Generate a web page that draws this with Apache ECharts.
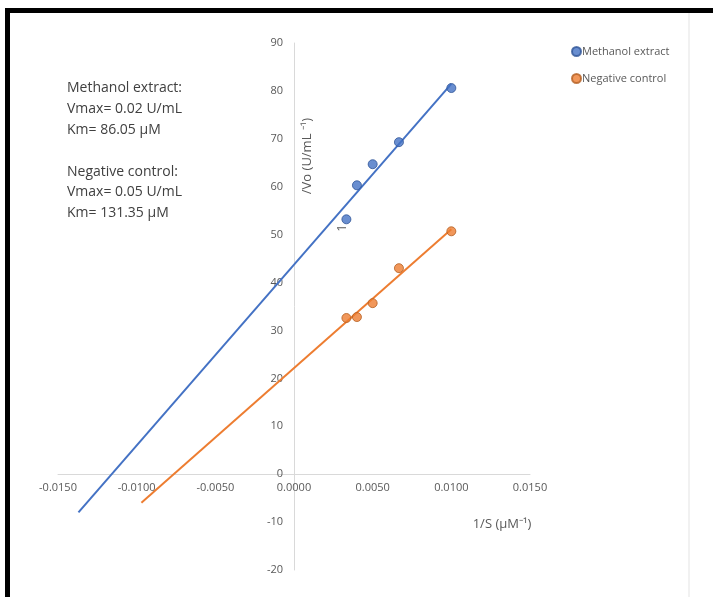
<!DOCTYPE html>
<html lang="en">
<head>
    <meta charset="UTF-8">
    <script src="https://cdn.jsdelivr.net/npm/echarts@6/dist/echarts.min.js"></script>
    <style>
        body, html {
            margin: 0;
            height: 100%;
            background: #fff;
        }

        #main {
            width: 713px;
            height: 597px;
        }
    </style>
    <title>Lineweaver-Burk</title>
</head>
<body>

<div id="main"></div>
<script type="text/javascript">
    const myChart = echarts.init(document.getElementById('main'));

    // 1/S values (uM^-1)
    const invS = [0.00333, 0.0040, 0.0050, 0.00667, 0.0100];
    // 1/Vo values
    const methanol = [53.2, 60.3, 64.7, 69.3, 80.6];
    const negative = [32.6, 32.8, 35.7, 43.0, 50.7];
    // extent of the drawn trendlines on x
    const methanolLineX = [-0.0137, 0.0100];
    const negativeLineX = [-0.0097, 0.0100];

    const notes = [
        'Methanol extract:',
        'Vmax= 0.02 U/mL',
        'Km= 86.05 \u00b5M',
        '',
        'Negative control:',
        'Vmax= 0.05 U/mL',
        'Km= 131.35 \u00b5M'
    ];

    function pairs(xs, ys) {
        return xs.map(function (x, i) { return [x, ys[i]]; });
    }

    // least squares line through the points, evaluated at the line ends
    function trend(xs, ys, ends) {
        const n = xs.length;
        let mx = 0, my = 0;
        for (let i = 0; i < n; i++) { mx += xs[i]; my += ys[i]; }
        mx /= n; my /= n;
        let sxy = 0, sxx = 0;
        for (let i = 0; i < n; i++) {
            sxy += (xs[i] - mx) * (ys[i] - my);
            sxx += (xs[i] - mx) * (xs[i] - mx);
        }
        const k = sxy / sxx;
        const b = my - k * mx;
        return ends.map(function (x) { return [x, k * x + b]; });
    }

    const labelStyle = {color: '#595959', fontSize: 11, fontFamily: 'Open Sans'};

    // grid: x from 58 to 530, y from 43 to 570; zero lines sit at x=294, y=474
    option = {
        animation: false,
        grid: {left: 58, right: 183, top: 43, bottom: 27},
        legend: {
            orient: 'vertical',
            left: 566,
            top: 41,
            itemWidth: 9,
            itemHeight: 9,
            itemGap: 16,
            icon: 'circle',
            textStyle: {color: '#595959', fontSize: 11, fontFamily: 'Open Sans', padding: [0, 0, 0, -4]},
            data: ['Methanol extract', 'Negative control']
        },
        xAxis: {
            type: 'value',
            min: -0.015,
            max: 0.015,
            interval: 0.005,
            offset: -96,
            axisLine: {onZero: false, lineStyle: {color: '#d9d9d9', width: 1}},
            axisTick: {show: false},
            splitLine: {show: false},
            axisLabel: Object.assign({
                margin: 8,
                formatter: function (v) { return v.toFixed(4); }
            }, labelStyle)
        },
        yAxis: {
            type: 'value',
            min: -20,
            max: 90,
            interval: 10,
            offset: -236,
            axisLine: {show: true, onZero: false, lineStyle: {color: '#d9d9d9', width: 1}},
            axisTick: {show: false},
            splitLine: {show: false},
            axisLabel: Object.assign({margin: 11}, labelStyle)
        },
        graphic: [
            {
                type: 'rect',
                shape: {x: 7.5, y: 10.5, width: 720, height: 620},
                style: {fill: 'none', stroke: '#000', lineWidth: 5},
                silent: true
            },
            {
                type: 'line',
                shape: {x1: 689, y1: 13, x2: 689, y2: 597},
                style: {stroke: '#e3e3e3', lineWidth: 1},
                silent: true
            },
            {
                type: 'text',
                left: 67,
                top: 78,
                style: {
                    text: notes.join('\n'),
                    fill: '#404040',
                    fontSize: 14,
                    lineHeight: 20.8,
                    fontFamily: 'Open Sans'
                }
            },
            {
                type: 'text',
                x: 307,
                y: 156,
                rotation: Math.PI / 2,
                style: {
                    text: '/Vo (U/mL \u207b\u00b9)',
                    fill: '#595959',
                    fontSize: 13,
                    fontFamily: 'Open Sans',
                    align: 'center',
                    verticalAlign: 'middle'
                }
            },
            {
                type: 'text',
                x: 342,
                y: 228,
                rotation: Math.PI / 2,
                style: {
                    text: '1',
                    fill: '#595959',
                    fontSize: 13,
                    fontFamily: 'Open Sans',
                    align: 'center',
                    verticalAlign: 'middle'
                }
            },
            {
                type: 'text',
                x: 502,
                y: 524,
                style: {
                    text: '1/S (\u00b5M\u207b\u00b9)',
                    fill: '#595959',
                    fontSize: 13,
                    fontFamily: 'Open Sans',
                    align: 'center',
                    verticalAlign: 'middle'
                }
            }
        ],
        series: [
            {
                name: 'Methanol extract line',
                type: 'line',
                data: trend(invS, methanol, methanolLineX),
                showSymbol: false,
                lineStyle: {color: '#4472C4', width: 2},
                z: 2
            },
            {
                name: 'Negative control line',
                type: 'line',
                data: trend(invS, negative, negativeLineX),
                showSymbol: false,
                lineStyle: {color: '#ED7D31', width: 2},
                z: 2
            },
            {
                name: 'Methanol extract',
                type: 'scatter',
                data: pairs(invS, methanol),
                symbolSize: 9,
                itemStyle: {color: '#4472C4', borderColor: '#2F5597', borderWidth: 1},
                z: 3
            },
            {
                name: 'Negative control',
                type: 'scatter',
                data: pairs(invS, negative),
                symbolSize: 9,
                itemStyle: {color: '#ED7D31', borderColor: '#B45F22', borderWidth: 1},
                z: 3
            }
        ]
    };
    myChart.setOption(option);

</script>
</body>
</html>
